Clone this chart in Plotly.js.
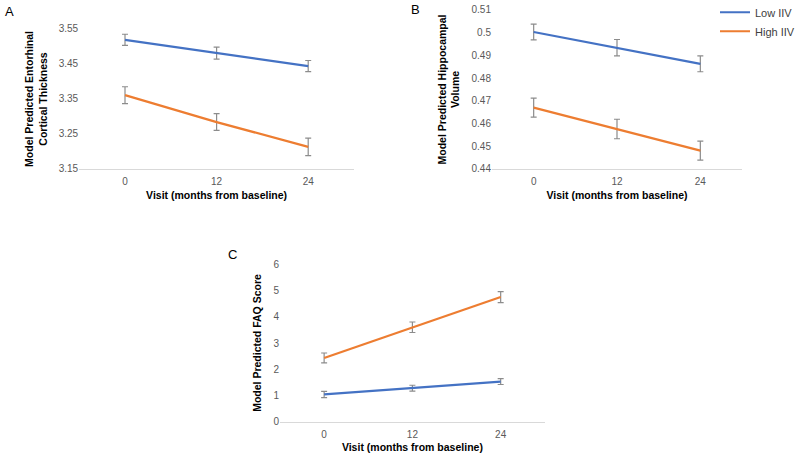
<!DOCTYPE html>
<html>
<head>
<meta charset="utf-8">
<script src="https://cdn.plot.ly/plotly-3.0.1.min.js"></script>
<style>html,body{margin:0;padding:0;background:#fff;}#chart{width:800px;height:453px;}</style>
</head>
<body>
<div id="chart"></div>
<script>
const visits = ["0", "12", "24"];
const seriesNames = ["Low IIV", "High IIV"];

// Panel A: entorhinal cortical thickness
const aLow = [3.519, 3.481, 3.444];
const aLowErr = [0.016, 0.017, 0.016];
const aHigh = [3.361, 3.284, 3.213];
const aHighErr = [0.024, 0.024, 0.025];

// Panel B: hippocampal volume
const bLow = [0.5003, 0.4934, 0.4863];
const bLowErr = [0.0035, 0.0036, 0.0035];
const bHigh = [0.467, 0.4576, 0.4481];
const bHighErr = [0.0042, 0.0043, 0.0042];

// Panel C: FAQ score
const cLow = [1.04, 1.28, 1.53];
const cLowErr = [0.12, 0.11, 0.11];
const cHigh = [2.43, 3.60, 4.75];
const cHighErr = [0.19, 0.20, 0.21];

const blue = "#4472C4";
const orange = "#ED7D31";
const errColor = "#8c8c8c";

function tr(y, err, color, name, xa, ya, showlegend) {
  return {
    type: "scatter", mode: "lines", x: visits, y: y, name: name,
    xaxis: xa, yaxis: ya, showlegend: showlegend, legendgroup: name,
    line: {color: color, width: 2.2},
    error_y: {type: "data", array: err, visible: true, color: errColor, thickness: 1.2, width: 3},
    hoverinfo: "skip"
  };
}

const data = [
  tr(aLow, aLowErr, blue, seriesNames[0], "x", "y", true),
  tr(aHigh, aHighErr, orange, seriesNames[1], "x", "y", true),
  tr(bLow, bLowErr, blue, seriesNames[0], "x2", "y2", false),
  tr(bHigh, bHighErr, orange, seriesNames[1], "x2", "y2", false),
  tr(cLow, cLowErr, blue, seriesNames[0], "x3", "y3", false),
  tr(cHigh, cHighErr, orange, seriesNames[1], "x3", "y3", false)
];

const fam = "Liberation Sans, Arial, sans-serif";
const tickFont = {family: fam, size: 10, color: "#595959"};
const titleFont = {family: fam, size: 10.5, color: "#000"};

function xax(domain, anchor) {
  return {
    domain: domain, anchor: anchor, type: "category", range: [-0.5, 2.5],
    showline: true, linecolor: "#d9d9d9", linewidth: 1, showgrid: false, zeroline: false,
    ticks: "", tickfont: tickFont, ticklen: 0, automargin: false, ticklabelstandoff: 3,
    title: {text: "<b>Visit (months from baseline)</b>", font: titleFont, standoff: 5}
  };
}
function yax(domain, anchor, range, dtick, fmt, title) {
  return {
    domain: domain, anchor: anchor, range: range, dtick: dtick, tick0: range[0],
    tickformat: fmt, showgrid: false, zeroline: false, showline: false,
    ticks: "", tickfont: tickFont, automargin: false,
    title: {text: title, font: titleFont, standoff: 9}
  };
}

const layout = {
  width: 800, height: 453,
  margin: {l: 0, r: 0, t: 0, b: 0, autoexpand: false},
  paper_bgcolor: "#fff", plot_bgcolor: "#fff",
  showlegend: true,
  legend: {x: 1, y: 1.005, xanchor: "right", yanchor: "top",
           font: {family: fam, size: 11, color: "#404040"},
           tracegroupgap: 0, itemwidth: 30, bgcolor: "rgba(0,0,0,0)"},
  xaxis: xax([0.099, 0.4425], "y"),
  yaxis: yax([0.627, 0.936], "x", [3.15, 3.55], 0.1, ".2f", "<b>Model Predicted Entorhinal<br>Cortical Thickness</b>"),
  xaxis2: xax([0.615, 0.9275], "y2"),
  yaxis2: yax([0.627, 0.978], "x2", [0.44, 0.51], 0.01, "", "<b>Model Predicted Hippocampal<br>Volume</b>"),
  xaxis3: xax([0.35, 0.681], "y3"),
  yaxis3: yax([0.069, 0.4166], "x3", [0, 6], 1, "", "<b>Model Predicted FAQ Score</b>"),
  annotations: [
    {text: "A", x: 0.004, y: 0.996, xref: "paper", yref: "paper", xanchor: "left", yanchor: "top", showarrow: false,
     font: {family: fam, size: 13, color: "#000"}},
    {text: "B", x: 0.511, y: 0.999, xref: "paper", yref: "paper", xanchor: "left", yanchor: "top", showarrow: false,
     font: {family: fam, size: 13, color: "#000"}},
    {text: "C", x: 0.282, y: 0.46, xref: "paper", yref: "paper", xanchor: "left", yanchor: "top", showarrow: false,
     font: {family: fam, size: 13, color: "#000"}}
  ]
};

Plotly.newPlot("chart", data, layout, {displayModeBar: false, staticPlot: true});
</script>
</body>
</html>
